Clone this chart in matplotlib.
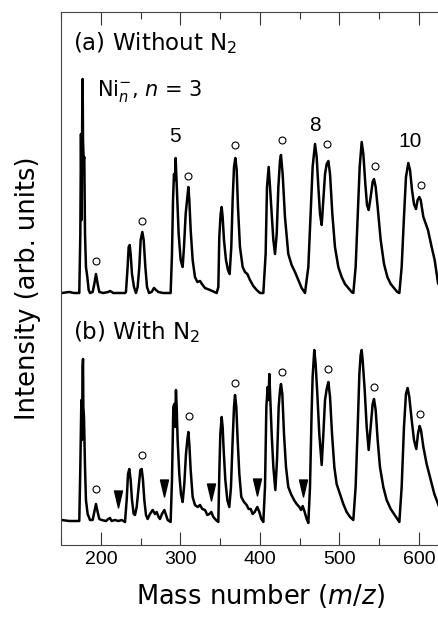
import numpy as np
import matplotlib
matplotlib.use('Agg')
import matplotlib.pyplot as plt
from matplotlib.path import Path
from matplotlib.ticker import MultipleLocator

plt.rcParams['font.family'] = ['Liberation Sans', 'DejaVu Sans']
plt.rcParams['mathtext.fontset'] = 'dejavusans'

# spectrum (a) without N2 : m/z, intensity (arb.)
mass_a = [150.5, 160, 166, 172.7,
          174.0, 174.8, 175.7, 176.5, 176.9, 177.4, 178.2, 179.0, 179.9, 181.1, 182.8, 184.5, 186.2,
          189.5, 191.6, 193.7, 195.8, 197.9, 202.9, 209.2, 211.3, 215.5, 230.2,
          231.4, 233.5, 234.8, 236.1, 237.3, 239.0, 241.5, 244.0, 246.1, 248.2, 249.9, 252.0, 253.7,
          255.8, 257.9, 260.4, 263.7, 266.7, 269.2, 272.1, 278.4, 287.6,
          289.3, 290.6, 291.8, 293.1, 293.9, 294.8, 296.0, 297.7, 300.2, 302.7, 304.4, 306.5, 308.6,
          309.9, 311.1, 312.8, 315.3, 318.2, 321.2, 324.5, 327.0, 330.8, 337.1, 345.5,
          347.6, 348.8, 350.5, 351.8, 353.0, 354.7, 357.2, 359.7, 361.8, 363.9, 365.6, 367.3, 369.0,
          370.7, 372.3, 374.8, 378.2, 381.1, 384.1, 387.4, 391.6, 395.8, 400.0, 404.2,
          407.1, 408.8, 410.9, 412.6, 414.7, 416.8, 418.9, 421.0, 423.1, 425.2, 426.4, 428.5, 431.4,
          435.6, 439.8, 444.0, 448.2, 452.4, 456.6,
          460.8, 463.7, 466.2, 469.2, 471.3, 473.4, 475.5, 477.6, 479.7, 481.8, 483.9, 486.0, 488.1,
          491.0, 494.3, 498.5, 502.7, 506.9, 511.1, 515.3, 517.4,
          520.3, 522.9, 525.4, 527.9, 530.0, 532.5, 534.6, 536.7, 539.2, 541.7, 543.4, 545.5, 548.0,
          551.8, 556.0, 560.2, 564.4, 568.6, 572.7, 575.3,
          578.2, 581.1, 583.6, 586.6, 588.7, 591.2, 593.7, 596.2, 598.3, 600.4, 602.1, 605.5, 611.3,
          615.9, 619.7, 623.9, 630.6]
int_a = [0, 1, 0, 0,
         59, 159, 73, 193, 214, 153, 133, 136, 59, 26, 16, 3, 0,
         1, 9, 19, 9, 1, 0, 1, 2, 0, 0,
         1, 26, 46, 48, 39, 19, 6, 0, 6, 26, 53, 61, 53,
         26, 6, 0, 1, 5, 3, 1, 0, 0,
         39, 93, 119, 113, 135, 116, 93, 59, 33, 26, 46, 79, 96,
         106, 93, 63, 33, 16, 11, 12, 9, 5, 3, 0,
         6, 56, 79, 86, 76, 53, 33, 23, 19, 46, 93, 126, 135,
         123, 86, 46, 26, 21, 19, 13, 7, 3, 0, 0,
         39, 106, 126, 106, 79, 53, 39, 59, 106, 133, 138, 119, 76,
         39, 28, 21, 13, 5, 0,
         26, 79, 126, 149, 136, 106, 79, 68, 93, 119, 129, 132, 119,
         79, 46, 26, 16, 9, 5, 1, 0,
         26, 76, 126, 151, 139, 109, 88, 83, 96, 111, 114, 106, 86,
         53, 29, 16, 9, 5, 1, 0,
         26, 76, 116, 130, 123, 103, 89, 84, 93, 96, 93, 76, 63,
         46, 33, 10, 0]

# spectrum (b) with N2
mass_b = [150.5, 160, 172.7,
          174.0, 175.3, 176.1, 176.9, 177.4, 177.8, 178.6, 179.9, 181.1, 183.2, 186.2,
          189.5, 191.6, 193.7, 195.8, 197.9, 200.8, 206.3, 209.2, 211.3, 213.4, 217.6, 221.8, 226.0, 230.2,
          232.3, 234.0, 235.6, 237.3, 239.0, 241.1, 242.8, 244.9, 247.4, 249.5, 251.2, 252.8, 254.5,
          256.6, 258.7, 261.6, 265.0, 267.9, 270.0, 272.5, 274.2, 276.7, 279.7, 281.8, 283.9, 287.6,
          289.3, 291.0, 292.2, 293.1, 294.3, 295.2, 296.4, 298.5, 300.6, 302.7, 304.8, 306.9, 308.6,
          309.9, 311.1, 312.8, 315.3, 318.2, 321.6, 324.5, 327.5, 330.8, 333.8, 336.3, 338.8, 341.3,
          344.7, 347.6,
          348.8, 350.1, 351.8, 353.0, 354.3, 356.4, 358.9, 361.4, 363.5, 365.6, 367.3, 368.6, 370.2,
          371.9, 374.0, 376.5, 379.9, 383.2, 385.7, 388.3, 390.8, 393.3, 396.6, 399.2, 401.7, 404.2,
          406.3, 408.0, 409.6, 410.9, 411.7, 413.0, 414.7, 416.8, 419.3, 421.4, 423.5, 425.2, 426.4,
          428.1, 430.2, 432.7, 435.6, 439.0, 442.8, 446.1, 449.5, 451.6, 453.7, 456.2, 458.7, 460.8,
          462.9, 465.0, 466.2, 468.3, 470.0, 472.1, 474.6, 477.6, 479.7, 481.8, 483.9, 486.0, 488.1,
          490.6, 493.5, 496.4, 500.6, 504.8, 509.0, 513.2, 517.4,
          520.3, 522.9, 525.0, 526.6, 527.9, 529.1, 531.7, 534.2, 536.7, 539.2, 541.7, 543.4, 545.5,
          548.0, 550.9, 555.1, 559.3, 564.4, 568.6, 572.7, 575.3,
          578.2, 581.1, 583.6, 585.7, 587.8, 590.8, 593.7, 596.6, 598.7, 600.8, 602.5, 605.5, 609.6,
          614.7, 619.3, 623.9, 630.6]
int_b = [1, 0, 0,
         54, 121, 81, 154, 162, 114, 104, 54, 21, 7, 1,
         1, 9, 17, 9, 2, 1, 0, 2, 3, 0, 1, 0, 1, -1,
         21, 47, 52, 41, 21, 7, 6, 14, 34, 51, 52, 41, 21,
         6, 2, 7, 11, 7, 9, 4, 2, 7, 11, 6, 1, -1,
         41, 114, 117, 94, 131, 114, 81, 47, 27, 19, 37, 67, 81,
         89, 77, 51, 24, 16, 14, 16, 12, 11, 6, 7, 9, 4,
         1, -1,
         47, 87, 104, 94, 71, 41, 21, 14, 34, 81, 114, 126, 114,
         81, 47, 24, 19, 16, 12, 12, 7, 9, 14, 9, 2, -1,
         34, 114, 134, 121, 147, 121, 87, 54, 31, 61, 114, 131, 137,
         127, 87, 54, 34, 27, 21, 17, 14, 11, 15, 9, 2, -2,
         34, 111, 144, 171, 157, 127, 87, 56, 87, 121, 132, 139, 124,
         87, 54, 37, 27, 17, 9, 4, 1,
         34, 94, 147, 166, 171, 161, 131, 94, 71, 94, 117, 122, 111,
         81, 54, 34, 21, 12, 7, 2, -1,
         34, 94, 127, 133, 124, 101, 81, 72, 87, 95, 91, 74, 57,
         41, 27, 17, 4]

# open circles (oxide peaks)
circ_m = [193.7, 252.0, 309.9, 369.0, 427.3, 483.9, 544.7, 602.5]
circ_a = [32, 72, 117, 148, 153, 149, 127, 108]
circ_mb = [193.7, 252.0, 310.7, 369.0, 427.3, 486.0, 543.8, 601.3]
circ_b = [32, 66, 105, 138, 149, 152, 134, 107]
# filled triangles in (b)
tri_m = [221.8, 279.7, 338.4, 395.8, 453.7]
tri_b = [22, 33, 29, 34, 33]

OFF_A = 252
OFF_B = 24

fig = plt.figure(figsize=(4.38, 6.17), dpi=100)
ax = fig.add_axes([61/438, 1 - 545/617, (438 - 61)/438, 533/617])

ax.plot(mass_a, np.array(int_a) + OFF_A, color='black', lw=1.8, solid_joinstyle='round')
ax.plot(mass_b, np.array(int_b) + OFF_B, color='black', lw=1.8, solid_joinstyle='round')

ax.plot(circ_m, np.array(circ_a) + OFF_A, 'o', ls='none', ms=5, mfc='white', mec='black', mew=0.8)
ax.plot(circ_mb, np.array(circ_b) + OFF_B, 'o', ls='none', ms=5, mfc='white', mec='black', mew=0.8)

tri = Path([(-0.47, 1), (0.47, 1), (0, -1), (-0.47, 1)],
           [Path.MOVETO, Path.LINETO, Path.LINETO, Path.CLOSEPOLY])
ax.plot(tri_m, np.array(tri_b) + OFF_B, marker=tri, ls='none', ms=12.2, color='black')

ax.set_xlim(149.7, 623.9)
ax.set_ylim(0, 533)

ax.xaxis.set_major_locator(MultipleLocator(100))
ax.xaxis.set_minor_locator(MultipleLocator(50))
ax.set_yticks([])
ax.tick_params(axis='x', which='both', direction='in', top=True, bottom=True,
               color='#333333', width=0.8, labelsize=14, pad=4)
ax.tick_params(axis='x', which='major', length=9.5)
ax.tick_params(axis='x', which='minor', length=5)
ax.spines['right'].set_visible(False)
for s in ['left', 'top', 'bottom']:
    ax.spines[s].set_color('#444444')
    ax.spines[s].set_linewidth(0.8)

dv = ['DejaVu Sans']
ax.text(164.8, 495, '(a) Without N$_2$', fontsize=16.5, family=dv, va='baseline', ha='left')
ax.text(164.8, 205.7, '(b) With N$_2$', fontsize=16.5, family=dv, va='baseline', ha='left')
ax.text(194.6, 449, 'Ni$_{n}^{-}$, $n$ = 3', fontsize=15, family=dv, va='baseline', ha='left')
ax.text(293.1, 403.3, '5', fontsize=15, va='baseline', ha='center')
ax.text(469.2, 414, '8', fontsize=15, va='baseline', ha='center')
ax.text(588.7, 397.7, '10', fontsize=15, va='baseline', ha='center')

ax.set_xlabel('Mass number ($m$/$z$)', fontsize=18.5, family=dv)
ax.xaxis.set_label_coords(0.53, -0.1107)
ax.xaxis.label.set_va('baseline')
fig.text(28/438, 1 - 288.5/617, 'Intensity (arb. units)', rotation=90,
         fontsize=18.5, family=dv, ha='center', va='center')

fig.savefig('out.png', dpi=100)
